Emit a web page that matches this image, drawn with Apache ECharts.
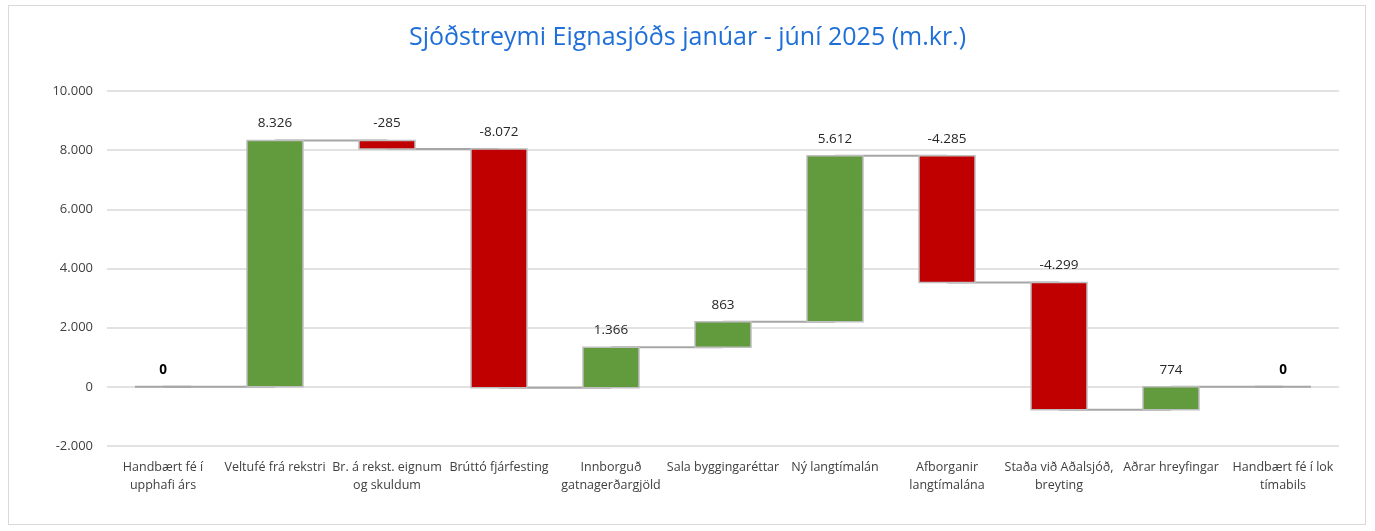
<!DOCTYPE html>
<html>
<head>
<meta charset="utf-8">
<script src="https://cdn.jsdelivr.net/npm/echarts@6/dist/echarts.min.js"></script>
<style>
html,body{margin:0;padding:0;background:#fff;}
#frame{position:absolute;left:8px;top:5px;width:1358px;height:520px;border:1px solid #D9D9D9;box-sizing:border-box;}
#chart{position:absolute;left:0;top:0;width:1375px;height:531px;}
</style>
</head>
<body>
<div id="frame"></div>
<div id="chart"></div>
<script>
const categories = [
  "Handbært fé í\nupphafi árs",
  "Veltufé frá rekstri",
  "Br. á rekst. eignum\nog skuldum",
  "Brúttó fjárfesting",
  "Innborguð\ngatnagerðargjöld",
  "Sala byggingaréttar",
  "Ný langtímalán",
  "Afborganir\nlangtímalána",
  "Staða við Aðalsjóð,\nbreyting",
  "Aðrar hreyfingar",
  "Handbært fé í lok\ntímabils"
];
const changes = [0, 8326, -285, -8072, 1366, 863, 5612, -4285, -4299, 774, 0];
const isTotal = [true, false, false, false, false, false, false, false, false, false, true];
const yTicks = { min: -2000, max: 10000, interval: 2000 };

const fmt = v => {
  const s = Math.abs(v).toString().replace(/\B(?=(\d{3})+(?!\d))/g, '.');
  return (v < 0 ? '-' : '') + s;
};

// build running totals
const rows = [];
let run = 0;
changes.forEach((c, i) => {
  let low, high, end;
  if (isTotal[i]) { low = 0; high = run; end = run; }
  else { const start = run; end = run + c; low = Math.min(start, end); high = Math.max(start, end); }
  rows.push([i, low, high, c, end]);
  run = end;
});
const connectors = rows.slice(0, -1).map((r, i) => [i, r[4]]);

const GREEN = '#629A3E', RED = '#C00000', EDGE = '#BFBFBF';
const chart = echarts.init(document.getElementById('chart'));
chart.setOption({
  animation: false,
  title: {
    text: 'Sjóðstreymi Eignasjóðs janúar - júní 2025 (m.kr.)',
    left: 'center', top: 20,
    textStyle: { color: '#1F6FD8', fontSize: 25, fontWeight: 'normal', fontFamily: 'Open Sans, sans-serif' }
  },
  grid: { left: 107, right: 36, top: 91, bottom: 85, containLabel: false },
  xAxis: {
    type: 'category', data: categories,
    axisLine: { show: false }, axisTick: { show: false },
    axisLabel: { interval: 0, color: '#404040', fontSize: 12.5, lineHeight: 18, margin: 12, fontFamily: 'Open Sans, sans-serif' }
  },
  yAxis: {
    type: 'value', min: yTicks.min, max: yTicks.max, interval: yTicks.interval,
    axisLine: { show: false }, axisTick: { show: false },
    splitLine: { lineStyle: { color: '#D9D9D9', width: 1.5 } },
    axisLabel: { color: '#404040', fontSize: 13, margin: 14, formatter: v => fmt(v), fontFamily: 'Open Sans, sans-serif' }
  },
  series: [
    {
      type: 'custom', z: 1, data: connectors,
      renderItem: (params, api) => {
        const i = api.value(0), y = api.value(1);
        const p1 = api.coord([i, y]), p2 = api.coord([i + 1, y]);
        return { type: 'line', shape: { x1: p1[0], y1: p1[1], x2: p2[0], y2: p2[1] },
          style: { stroke: '#A6A6A6', lineWidth: 2 } };
      }
    },
    {
      type: 'custom', z: 2, data: rows,
      renderItem: (params, api) => {
        const i = api.value(0), low = api.value(1), high = api.value(2), c = api.value(3);
        const total = isTotal[i];
        const w = api.size([1, 0])[0] * 0.5;
        const pTop = api.coord([i, high]), pBot = api.coord([i, low]);
        const h = Math.max(pBot[1] - pTop[1], 1);
        const children = [];
        if (!total) {
          children.push({ type: 'rect', shape: { x: pTop[0] - w / 2, y: pTop[1], width: w, height: h },
            style: { fill: c >= 0 ? GREEN : RED, stroke: EDGE, lineWidth: 1.5 } });
        } else {
          children.push({ type: 'line', shape: { x1: pTop[0] - w / 2, y1: pTop[1], x2: pTop[0] + w / 2, y2: pTop[1] },
            style: { stroke: '#A6A6A6', lineWidth: 2 } });
        }
        children.push({ type: 'text', x: pTop[0], y: pTop[1] - 17,
          style: { text: fmt(c), fill: total ? '#000' : '#262626', fontSize: 13.5,
            fontWeight: total ? 'bold' : 'normal', align: 'center', verticalAlign: 'middle',
            fontFamily: 'Open Sans, sans-serif' } });
        return { type: 'group', children };
      }
    }
  ]
});
</script>
</body>
</html>
